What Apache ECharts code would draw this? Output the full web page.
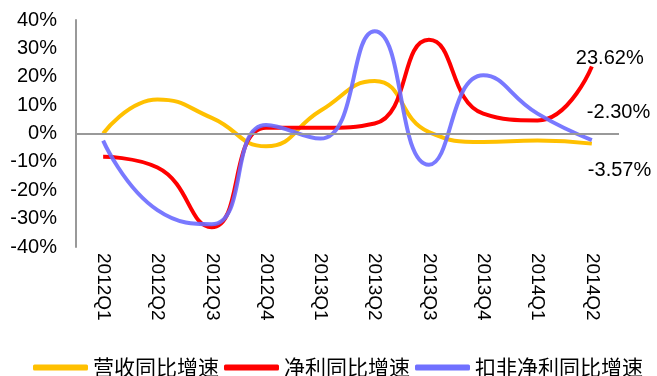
<!DOCTYPE html>
<html>
<head>
<meta charset="utf-8">
<script src="https://cdn.jsdelivr.net/npm/echarts@6/dist/echarts.min.js"></script>
<style>
  html, body { margin: 0; padding: 0; background: #fff; }
  #main { width: 657px; height: 376px; }
</style>
</head>
<body>
<div id="main"></div>
<script>
  // 季度
  var quarters = ['2012Q1', '2012Q2', '2012Q3', '2012Q4', '2013Q1', '2013Q2', '2013Q3', '2013Q4', '2014Q1', '2014Q2']
  // 同比增速（%）
  var revenueGrowth = [0, 12, 5.5, -4.5, 8, 18.5, 0.5, -3, -2.5, -3.57]
  var profitGrowth = [-8.2, -12, -33, 2, 2, 3.5, 33, 7, 4.6, 23.62]
  var coreProfitGrowth = [-2.5, -27, -32, 3, -1.8, 36, -11, 20.5, 7, -2.30]
  var yTicks = { min: -40, max: 40, step: 10 }

  var chart = echarts.init(document.getElementById('main'))

  function endLbl(arr, offset) {
    return {
      show: true,
      distance: 0,
      offset: offset,
      color: '#000',
      fontFamily: 'Liberation Sans, Arial',
      fontSize: 20,
      formatter: function () {
        return arr[arr.length - 1].toFixed(2) + '%'
      }
    }
  }

  chart.setOption({
    animation: false,
    grid: { left: 76, right: 38, top: 20, bottom: 129 },
    legend: {
      top: 352,
      left: 28,
      itemWidth: 55,
      itemHeight: 6,
      itemGap: 5,
      icon: 'roundRect',
      textStyle: { fontFamily: 'Noto Sans CJK SC', fontSize: 21, color: '#000' },
      data: ['营收同比增速', '净利同比增速', '扣非净利同比增速']
    },
    xAxis: {
      type: 'category',
      data: quarters,
      axisLine: { show: false },
      axisTick: { show: false },
      axisLabel: {
        rotate: -90,
        margin: 6,
        color: '#000',
        fontFamily: 'Liberation Sans, Arial',
        fontSize: 19
      }
    },
    yAxis: {
      type: 'value',
      min: yTicks.min,
      max: yTicks.max,
      interval: yTicks.step,
      axisLine: { show: true, lineStyle: { color: '#999', width: 2 } },
      axisTick: { show: false },
      splitLine: { show: false },
      axisLabel: {
        margin: 19,
        color: '#000',
        fontFamily: 'Liberation Sans, Arial',
        fontSize: 20,
        formatter: '{value}%'
      }
    },
    series: [
      {
        name: '营收同比增速',
        type: 'line',
        smooth: 0.5,
        showSymbol: false,
        data: revenueGrowth,
        itemStyle: { color: '#ffc000' },
        lineStyle: { color: '#ffc000', width: 4 },
        endLabel: endLbl(revenueGrowth, [-4, 27]),
        markLine: {
          silent: true,
          symbol: 'none',
          label: { show: false },
          lineStyle: { color: '#999', type: 'solid', width: 2 },
          data: [{ yAxis: 0 }]
        },
        z: 2
      },
      {
        name: '净利同比增速',
        type: 'line',
        smooth: 0.5,
        showSymbol: false,
        data: profitGrowth,
        itemStyle: { color: '#ff0000' },
        lineStyle: { color: '#ff0000', width: 4 },
        endLabel: endLbl(profitGrowth, [-16, -8]),
        z: 3
      },
      {
        name: '扣非净利同比增速',
        type: 'line',
        smooth: 0.5,
        showSymbol: false,
        data: coreProfitGrowth,
        itemStyle: { color: '#7070ff' },
        lineStyle: { color: '#6a6aff', width: 4, opacity: 0.9 },
        endLabel: endLbl(coreProfitGrowth, [-5, -28]),
        z: 4
      }
    ]
  })
</script>
</body>
</html>
